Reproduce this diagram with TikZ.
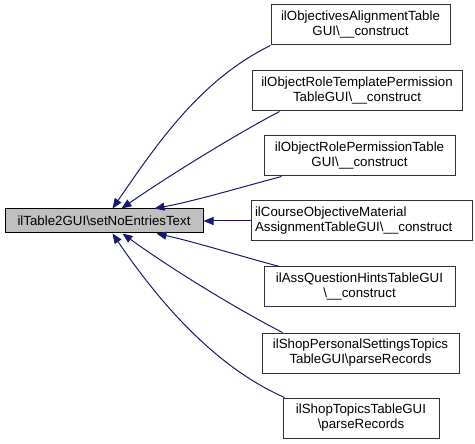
\documentclass[tikz,border=0pt]{standalone}
\usepackage{fontspec}
\setmainfont{Liberation Sans}
\usetikzlibrary{arrows.meta,calc}
\definecolor{edgeblue}{RGB}{25,25,112}
\definecolor{boxgray}{RGB}{191,191,191}
\begin{document}
\begin{tikzpicture}[x=1pt,y=-1pt,
  box/.style={draw=black!80, line width=1pt, fill=white, minimum height=40pt,
    inner sep=0pt, align=center, font=\fontsize{13.3}{15}\selectfont},
  edge/.style={draw=edgeblue, line width=1pt,
    {Triangle[length=10pt,width=8pt,fill=edgeblue]}-}]
\useasboundingbox (0,0) rectangle (475,444);
\node[box, fill=boxgray, draw=black, minimum width=198pt, minimum height=24pt] (L) at (104,221)
  {ilTable2GUI\textbackslash setNoEntriesText};
\node[box, minimum width=179pt] (b1) at (360.5,25)
  {ilObjectivesAlignmentTable\\GUI\textbackslash\_\_construct};
\node[box, minimum width=210pt] (b2) at (357,91)
  {ilObjectRoleTemplatePermission\\TableGUI\textbackslash\_\_construct};
\node[box, minimum width=191pt] (b3) at (359.5,156)
  {ilObjectRolePermissionTable\\GUI\textbackslash\_\_construct};
\node[box, minimum width=221pt, align=left, text width=213pt] (b4) at (361.5,221)
  {ilCourseObjectiveMaterial\\AssignmentTableGUI\textbackslash\_\_construct};
\node[box, minimum width=191pt] (b5) at (359.5,287)
  {ilAssQuestionHintsTableGUI\\\textbackslash\_\_construct};
\node[box, minimum width=197pt] (b6) at (360.5,353)
  {ilShopPersonalSettingsTopics\\TableGUI\textbackslash parseRecords};
\node[box, minimum width=156pt] (b7) at (361,418)
  {ilShopTopicsTableGUI\\\textbackslash parseRecords};
\draw[edge] ($(L.north west)+(108,0)$) .. controls (157,144) and (200,80) .. (b1.south west);
\draw[edge] ($(L.north west)+(117,0)$) .. controls (167,177) and (233,136) .. ($(b2.south west)+(28,0)$);
\draw[edge] ($(L.north west)+(150,0)$) .. controls (195,201) and (242,187) .. ($(b3.south west)+(18,0)$);
\draw[edge] (L.east) -- (b4.west |- L.east);
\draw[edge] ($(L.south west)+(152,0)$) .. controls (195,242) and (240,256) .. ($(b5.north west)+(16,0)$);
\draw[edge] ($(L.south west)+(118,0)$) .. controls (167,266) and (233,307) .. ($(b6.north west)+(21,0)$);
\draw[edge] ($(L.south west)+(108,0)$) .. controls (157,299) and (213,366) .. ($(b7.north west)+(2,0)$);
\end{tikzpicture}
\end{document}
